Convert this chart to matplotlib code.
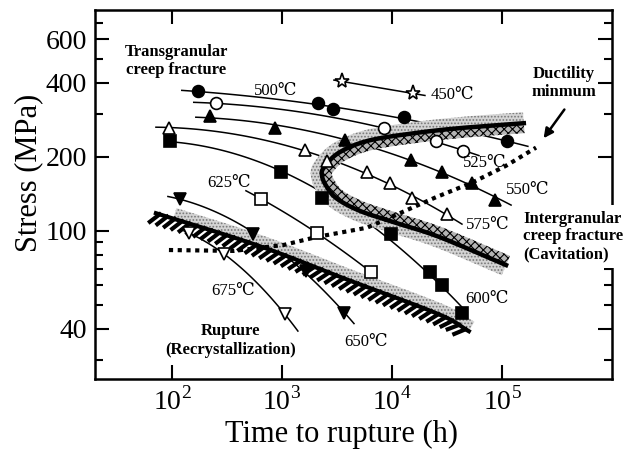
import numpy as np
import matplotlib
matplotlib.use('Agg')
import matplotlib.pyplot as plt
import matplotlib.patheffects as pe
from matplotlib.ticker import FixedLocator, NullFormatter

plt.rcParams['font.family'] = ['Liberation Serif', 'DejaVu Serif', 'Noto Sans CJK JP']
plt.rcParams['mathtext.fontset'] = 'custom'
plt.rcParams['mathtext.rm'] = 'Liberation Serif'
plt.rcParams['hatch.linewidth'] = 0.8

# ---- data (time to rupture in h, stress in MPa) ----
t450 = [3510, 15500]
s450 = [405, 362]
t500 = [172, 2120, 2910, 12850, 111000]
s500 = [369, 330, 312, 289, 231]
t525 = [251, 8450, 25100, 44200]
s525 = [330, 261, 231, 212]
t550 = [222, 863, 3740, 14900, 28500, 53400, 86300]
s550 = [292, 263, 235, 195, 173, 156, 134]
t575 = [94, 1620, 2570, 5930, 9590, 15200, 31600]
s575 = [263, 214, 193, 173, 156, 136, 117]
t600 = [96, 979, 2310, 9790, 22100, 28500, 43300]
s600 = [233, 174, 136, 97.2, 68, 60.3, 46.3]
t625 = [644, 2080, 6440]
s625 = [135, 98, 68]
t650 = [118, 545, 1650, 3660]
s650 = [135, 97.2, 68.7, 46.3]
t675 = [143, 297, 1065]
s675 = [98, 80.6, 45.8]

# range covered by each drawn curve
line_range = {
    450: (2970, 19950), 500: (123, 172000), 525: (158, 61800),
    550: (165, 121000), 575: (71.6, 43300), 600: (96, 48100),
    625: (471, 6440), 650: (92, 4520), 675: (129, 1397),
}

# boundary of intergranular creep fracture region (C-shaped)
cav_t = [158000, 47100, 17600, 6180, 3300, 2410, 2310, 2510, 3100, 5010, 10000, 26700, 109000]
cav_s = [274, 263, 251, 233, 208, 181, 168, 153, 136, 121, 109, 94.6, 72.6]

# rupture (recrystallization) boundary
rup_t = [71.6, 618, 4060, 26700, 50000]
rup_s = [118, 86.9, 63, 45.8, 39.1]

# ductility minimum
duct_t = [94, 366, 1042, 2080, 5930, 13400, 25100, 53400, 109000, 204000]
duct_s = [83.6, 82.9, 87.7, 94.5, 103, 121, 137, 157, 184, 218]

temp_labels = {
    450: (35100, 356), 500: (882, 369), 525: (70000, 188), 550: (172000, 146),
    575: (74600, 106), 600: (73100, 52.7), 625: (330, 156), 650: (5800, 35.2),
    675: (359, 56.9),
}

series = [
    (450, t450, s450, '*', 'white'),
    (500, t500, s500, 'o', 'black'),
    (525, t525, s525, 'o', 'white'),
    (550, t550, s550, '^', 'black'),
    (575, t575, s575, '^', 'white'),
    (600, t600, s600, 's', 'black'),
    (625, t625, s625, 's', 'white'),
    (650, t650, s650, 'v', 'black'),
    (675, t675, s675, 'v', 'white'),
]

fig = plt.figure(figsize=(6.44, 4.57), dpi=100)
ax = fig.add_axes([0.1475, 0.1707, 0.8028, 0.8073])
ax.set_xscale('log')
ax.set_yscale('log')
ax.set_xlim(20, 1e6)
ax.set_ylim(25, 790)


def smooth(xs, ys, n=12):
    # Catmull-Rom through points in display space
    p = ax.transData.transform(np.column_stack([xs, ys]))
    p = np.vstack([2 * p[0] - p[1], p, 2 * p[-1] - p[-2]])
    out = []
    for i in range(1, len(p) - 2):
        p0, p1, p2, p3 = p[i - 1], p[i], p[i + 1], p[i + 2]
        for u in np.linspace(0, 1, n, endpoint=False):
            out.append(0.5 * ((2 * p1) + (-p0 + p2) * u
                              + (2 * p0 - 5 * p1 + 4 * p2 - p3) * u ** 2
                              + (-p0 + 3 * p1 - 3 * p2 + p3) * u ** 3))
    out.append(p[-2])
    return np.array(out)


def to_data(pix):
    return ax.transData.inverted().transform(pix)


def offset(pix, d):
    g = np.gradient(pix, axis=0)
    g = g / np.linalg.norm(g, axis=1)[:, None]
    nrm = np.column_stack([-g[:, 1], g[:, 0]])
    return pix + d * nrm


def band(pix, d, **kw):
    poly = np.vstack([pix, offset(pix, d)[::-1]])
    dpoly = to_data(poly)
    ax.fill(dpoly[:, 0], dpoly[:, 1], **kw)


# cavitation region boundary
cav = smooth(cav_t, cav_s)
band(cav, -11, facecolor='#d4d4d4', edgecolor='#777777', hatch='.....', linewidth=0, zorder=2)
band(cav, 10, facecolor='#b4b4b4', edgecolor='black', hatch='xxxx', linewidth=0, zorder=2)
c = to_data(cav)
ax.plot(c[:, 0], c[:, 1], color='black', lw=3.2, zorder=3)

# rupture boundary
rup = smooth(rup_t, rup_s)
band(rup[2:], 11, facecolor='#d4d4d4', edgecolor='#777777', hatch='.....', linewidth=0, zorder=2)
r = to_data(rup)
ax.plot(r[:, 0], r[:, 1], color='black', lw=3.0, zorder=3,
        path_effects=[pe.withTickedStroke(angle=-125, spacing=5.5, length=1.6)])

# ductility minimum
ax.plot(duct_t, duct_s, color='black', lw=3.0, linestyle=(0, (1, 1.1)),
        dash_capstyle='butt', zorder=4)

# creep rupture curves
for temp, t, s, mk, fc in series:
    lt, ls = np.log10(t), np.log10(s)
    deg = 2 if len(t) > 2 else 1
    coef = np.polyfit(lt, ls, deg)
    t0, t1 = line_range[temp]
    xx = np.linspace(np.log10(t0), np.log10(t1), 100)
    ax.plot(10 ** xx, 10 ** np.polyval(coef, xx), color='black', lw=1.1, zorder=1)
    ms = {'*': 11, 'o': 8.5, 's': 8, '^': 8.5, 'v': 8.5}[mk]
    ax.plot(t, s, linestyle='none', marker=mk, markersize=ms, markerfacecolor=fc,
            markeredgecolor='black', markeredgewidth=1.2, zorder=6)
    lx, ly = temp_labels[temp]
    ax.text(lx, ly, f'{temp}℃', fontsize=12, ha='center', va='center', zorder=7)

# region labels
ax.text(109, 489, 'Transgranular\ncreep fracture', fontsize=12, fontweight='bold',
        ha='center', va='center', linespacing=1.15)
ax.text(155000, 95, 'Intergranular\ncreep fracture\n(Cavitation)', fontsize=12,
        fontweight='bold', ha='left', va='center', linespacing=1.15, zorder=10,
        clip_on=False, bbox=dict(facecolor='white', edgecolor='none', pad=4))
ax.text(343, 35.9, 'Rupture\n(Recrystallization)', fontsize=12, fontweight='bold',
        ha='center', va='center', linespacing=1.2)
ax.text(366000, 398, 'Ductility\nminmum', fontsize=12, fontweight='bold',
        ha='center', va='center', linespacing=1.15)
ax.annotate('', xy=(231000, 233), xytext=(382000, 318),
            arrowprops=dict(arrowstyle='-|>', color='black', lw=1.8, mutation_scale=14))

# axes styling
ax.xaxis.set_major_locator(FixedLocator([1e2, 1e3, 1e4, 1e5]))
ax.xaxis.set_minor_locator(FixedLocator([]))
ax.set_xticklabels([r'$10^{2}$', r'$10^{3}$', r'$10^{4}$', r'$10^{5}$'])
ax.yaxis.set_major_locator(FixedLocator([40, 100, 200, 400, 600]))
ax.yaxis.set_minor_locator(FixedLocator([30, 50, 60, 70, 80, 90, 300, 500, 700]))
ax.set_yticklabels(['40', '100', '200', '400', '600'])
ax.yaxis.set_minor_formatter(NullFormatter())
ax.tick_params(which='both', direction='in', top=True, right=True, width=1.5)
ax.tick_params(which='major', length=10, pad=6, labelsize=20)
ax.tick_params(which='minor', length=6)
for sp in ax.spines.values():
    sp.set_linewidth(1.8)

ax.set_xlabel('Time to rupture (h)', fontsize=22)
ax.set_ylabel('Stress (MPa)', fontsize=22)
ax.xaxis.set_label_coords(0.476, -0.11)
ax.yaxis.set_label_coords(-0.1, 0.558)

fig.savefig('out.png', dpi=100)
